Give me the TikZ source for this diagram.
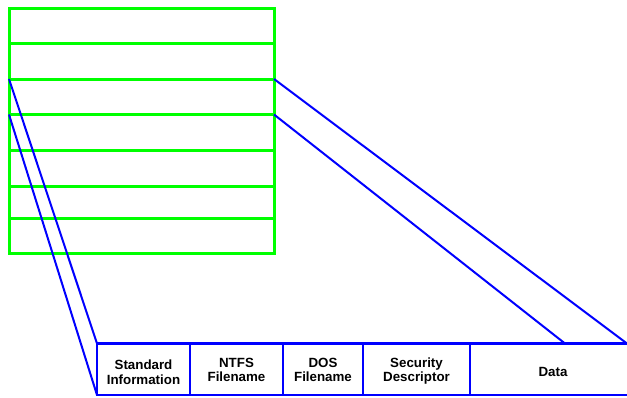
\documentclass[tikz,border=0pt]{standalone}
\usepackage{fontspec}
\setmainfont{Liberation Sans}
\definecolor{tblgreen}{RGB}{0,255,0}
\definecolor{recblue}{RGB}{0,0,255}
\tikzset{every picture/.style={line width=0.75pt}}
\tikzset{
  tblline/.style={draw=tblgreen, line width=2.25pt},
  recline/.style={draw=recblue, line width=1.5pt},
  recbox/.style={draw=recblue, line width=2pt},
  fieldtext/.style={inner sep=0.75pt, align=center, font=\fontsize{10}{11}\selectfont\bfseries}
}

\begin{document}
\begin{tikzpicture}[x=0.75pt,y=0.75pt,yscale=-1,xscale=1]
\useasboundingbox (0,0) rectangle (627,397);

%Shape: MFT table rows
\foreach \yy/\nm in {8/r1,43.5/r2,79/r3,114.5/r4,150/r5,186/r6,218.5/r7,253/r8} {
  \coordinate (\nm l) at (9,\yy);
  \coordinate (\nm r) at (274,\yy);
}
\draw [tblline] (r1l) rectangle (r8r) ;
\foreach \nm in {r2,r3,r4,r5,r6,r7} {
  \draw [tblline] (\nm l) -- (\nm r) ;
}

%Shape: record corners
\coordinate (recTL) at (97,343.5);
\coordinate (recBL) at (97,395);
\coordinate (recTR) at (630,343.5);
\coordinate (recBR) at (630,395);
\coordinate (dataTL) at (565,343.5);
\coordinate (endTR) at (627,343.5);

%Straight Lines: record outline and dividers
\draw [recbox] (recTR) -- (recTL) -- (recBL) -- (recBR) ;
\foreach \xx/\nm in {190/d1,283/d2,363/d3,470/d4} {
  \coordinate (\nm t) at (\xx,343.5);
  \coordinate (\nm b) at (\xx,395);
  \draw [recline] (\nm t) -- (\nm b) ;
}

%Straight Lines: zoom lines
\draw [recline] (r3l) -- (recTL) ;
\draw [recline] (r4l) -- (recBL) ;
\draw [recline] (r3r) -- (endTR) ;
\draw [recline] (r4r) -- (dataTL) ;

% Text Node
\node [fieldtext] (stdinfo) at (143.5,372) {Standard\\Information};
% Text Node
\node [fieldtext] (ntfsname) at (236.5,370) {NTFS\\Filename};
% Text Node
\node [fieldtext] (dosname) at (323,370) {DOS\\Filename};
% Text Node
\node [fieldtext] (secdesc) at (416.5,371) {Security\\Descriptor};
% Text Node
\node [fieldtext] (data) at (553,372) {Data};

\end{tikzpicture}
\end{document}
